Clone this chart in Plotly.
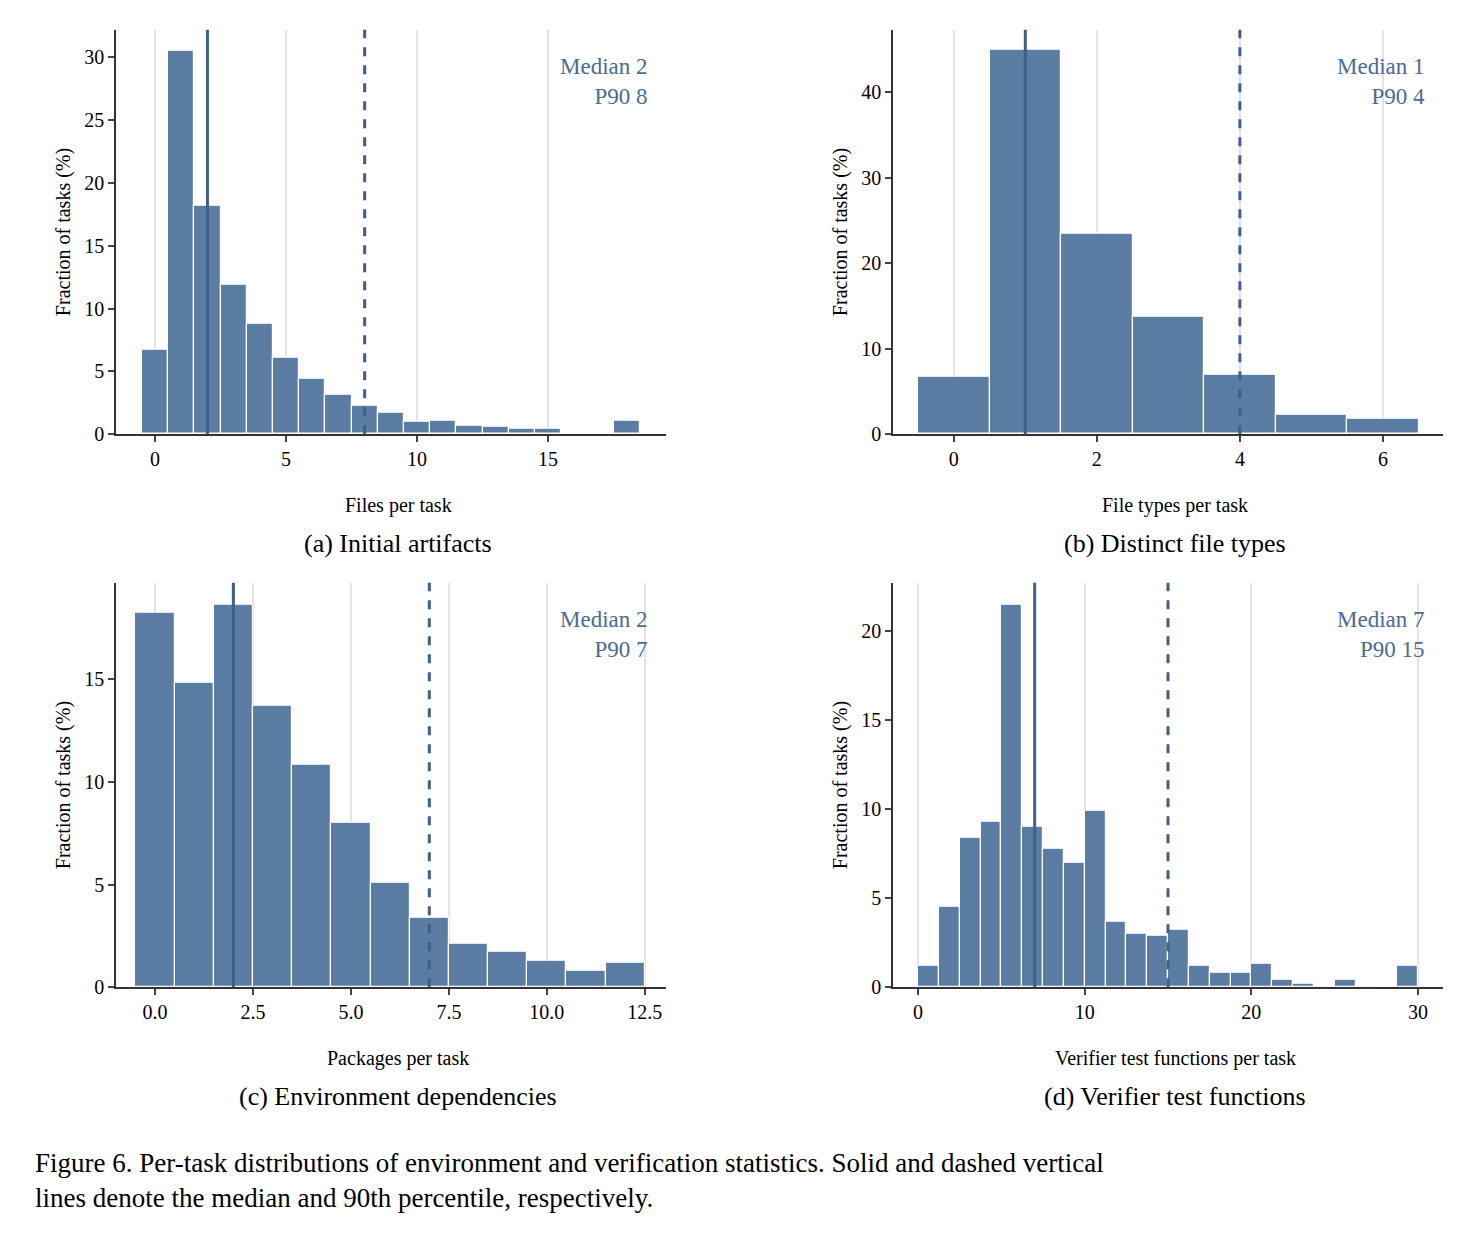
import plotly.graph_objects as go
import numpy as np

W, H = 1459, 1242
a_vals = [6.7, 30.5, 18.2, 11.9, 8.8, 6.1, 4.4, 3.1, 2.3, 1.7, 1.0, 1.1, 0.7, 0.6, 0.4, 0.4, 0, 0, 1.1]
a_x = list(range(19))
b_vals = [6.7, 45.0, 23.4, 13.7, 7.0, 2.3, 1.8]
b_x = list(range(7))
c_vals = [18.2, 14.8, 18.6, 13.7, 10.8, 8.0, 5.1, 3.4, 2.1, 1.7, 1.3, 0.8, 1.2]
c_x = list(range(13))
d_vals = [1.2, 4.5, 8.4, 9.3, 21.5, 9.0, 7.8, 7.0, 9.9, 3.7, 3.0, 2.9, 3.2, 1.2, 0.8, 0.8, 1.3, 0.4, 0.2, 0.1, 0.4, 0.1, 0, 1.2]
d_x = [0.625 + 1.25 * i for i in range(24)]

medians = [2, 1, 2, 7]
p90s = [8, 4, 7, 15]
xlabels = ["Files per task", "File types per task", "Packages per task", "Verifier test functions per task"]
subcaps = ["(a) Initial artifacts", "(b) Distinct file types", "(c) Environment dependencies", "(d) Verifier test functions"]
caption = ("Figure 6. Per-task distributions of environment and verification statistics. Solid and dashed vertical<br>"
           "lines denote the median and 90th percentile, respectively.")

BAR = "#5b7ca3"
LINE = "#3f5f88"
TXT = "#4a6b96"
FONT = "Liberation Serif"

panels = [
    dict(x=a_x, y=a_vals, w=1.0, xd=[108, 658], yd=[22, 430], xr=[-1.49, 19.5], yr=[0, 32.2], xt=[0, 5, 10, 15], yt=[0, 5, 10, 15, 20, 25, 30], xfmt=None),
    dict(x=b_x, y=b_vals, w=1.0, xd=[885, 1435], yd=[22, 430], xr=[-0.85, 6.84], yr=[0, 47.3], xt=[0, 2, 4, 6], yt=[0, 10, 20, 30, 40], xfmt=None),
    dict(x=c_x, y=c_vals, w=1.0, xd=[108, 658], yd=[580, 988], xr=[-0.995, 13.04], yr=[0, 19.68], xt=[0, 2.5, 5, 7.5, 10, 12.5], yt=[0, 5, 10, 15], xfmt=".1f"),
    dict(x=d_x, y=d_vals, w=1.25, xd=[885, 1435], yd=[580, 988], xr=[-1.5, 31.5], yr=[0, 22.73], xt=[0, 10, 20, 30], yt=[0, 5, 10, 15, 20], xfmt=None),
]

fig = go.Figure()
anns = []
for i, p in enumerate(panels):
    n = "" if i == 0 else str(i + 1)
    xa, ya = "x" + n, "y" + n
    fig.add_trace(go.Bar(x=p["x"], y=p["y"], width=p["w"], marker=dict(color=BAR, line=dict(color="white", width=1.2)),
                         xaxis=xa, yaxis=ya, showlegend=False))
    x0, x1 = p["xd"][0] / W, p["xd"][1] / W
    y0, y1 = 1 - p["yd"][1] / H, 1 - p["yd"][0] / H
    ax = dict(domain=[x0, x1], range=p["xr"], tickvals=p["xt"], showgrid=True, gridcolor="#e3e3e3", gridwidth=1.5,
              showline=True, linecolor="#333", linewidth=1.5, ticks="outside", ticklen=6, tickwidth=1.5,
              tickfont=dict(family=FONT, size=20, color="black"), zeroline=False, anchor=ya)
    if p["xfmt"]:
        ax["tickformat"] = p["xfmt"]
    ay = dict(domain=[y0, y1], range=p["yr"], tickvals=p["yt"], showgrid=False, showline=True, linecolor="#333", linewidth=1.5,
              ticks="outside", ticklen=6, tickwidth=1.5, tickfont=dict(family=FONT, size=20, color="black"), zeroline=False,
              anchor=xa, title=dict(text="Fraction of tasks (%)", font=dict(family=FONT, size=20, color="black"), standoff=8))
    fig.update_layout(**{"xaxis" + n: ax, "yaxis" + n: ay})
    for v, dash in [(medians[i], "solid"), (p90s[i], "dash")]:
        fig.add_shape(type="line", x0=v, x1=v, y0=0, y1=1, xref=xa, yref=ya + " domain",
                      line=dict(color=LINE, width=3, dash=dash))
    anns.append(dict(text=f"Median {medians[i]}<br>P90 {p90s[i]}", x=(p["xd"][1] - 16) / W, y=1 - (p["yd"][0] + 22) / H,
                     xref="paper", yref="paper", xanchor="right", yanchor="top", align="right", showarrow=False,
                     font=dict(family=FONT, size=23, color=TXT)))
    cx = (p["xd"][0] + p["xd"][1]) / 2 / W + 0.005
    anns.append(dict(text=xlabels[i], x=cx, y=1 - (p["yd"][1] + 72) / H, xref="paper", yref="paper", showarrow=False,
                     xanchor="center", yanchor="middle", font=dict(family=FONT, size=20, color="black")))
    anns.append(dict(text=subcaps[i], x=cx, y=1 - (p["yd"][1] + 110) / H, xref="paper", yref="paper", showarrow=False,
                     xanchor="center", yanchor="middle", font=dict(family=FONT, size=26, color="black")))

anns.append(dict(text=caption, x=25 / W, y=1 - 1148 / H, xref="paper", yref="paper", showarrow=False, xanchor="left",
                 yanchor="top", align="left", font=dict(family=FONT, size=27, color="black")))

fig.update_layout(width=W, height=H, margin=dict(l=0, r=0, t=0, b=0), plot_bgcolor="white", paper_bgcolor="white",
                  bargap=0, annotations=anns)
fig.write_html("out.html")
